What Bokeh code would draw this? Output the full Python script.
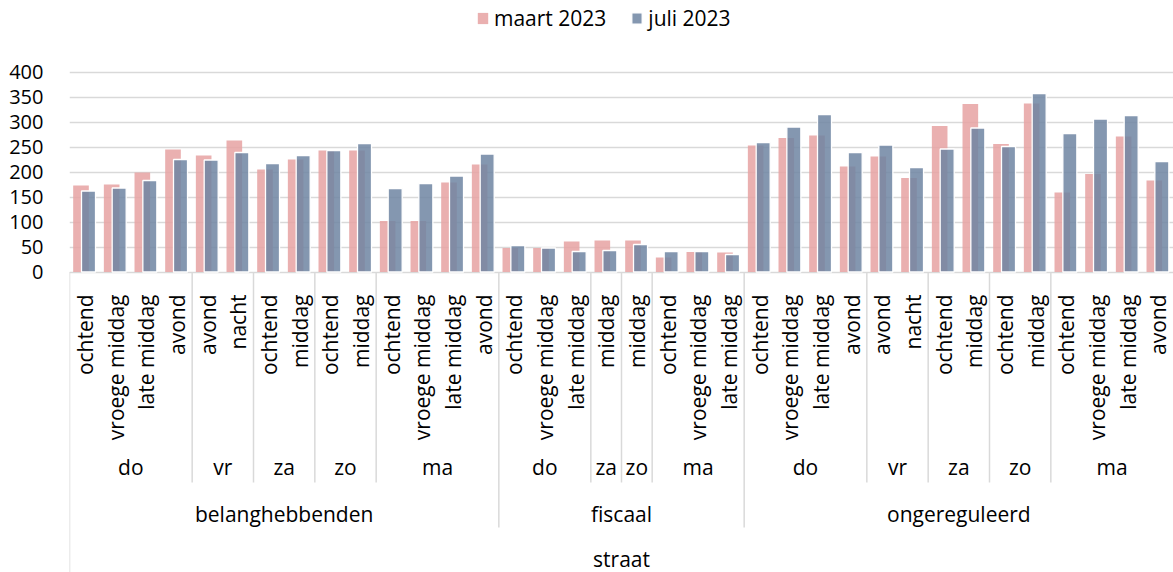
import math
from bokeh.plotting import figure
from bokeh.models import ColumnDataSource, FixedTicker, Legend, LegendItem, Range1d
from bokeh.core.properties import value
from bokeh.transform import dodge
from bokeh.embed import file_html
from bokeh.resources import INLINE

# ---------------- data ----------------
top_level = "straat"
group = (["belanghebbenden"] * 14) + (["fiscaal"] * 8) + (["ongereguleerd"] * 14)
day = (["do"] * 4 + ["vr"] * 2 + ["za"] * 2 + ["zo"] * 2 + ["ma"] * 4
       + ["do"] * 3 + ["za"] + ["zo"] + ["ma"] * 3
       + ["do"] * 4 + ["vr"] * 2 + ["za"] * 2 + ["zo"] * 2 + ["ma"] * 4)
tijd = ["ochtend", "vroege middag", "late middag", "avond",
        "avond", "nacht",
        "ochtend", "middag",
        "ochtend", "middag",
        "ochtend", "vroege middag", "late middag", "avond",
        "ochtend", "vroege middag", "late middag",
        "middag",
        "middag",
        "ochtend", "vroege middag", "late middag",
        "ochtend", "vroege middag", "late middag", "avond",
        "avond", "nacht",
        "ochtend", "middag",
        "ochtend", "middag",
        "ochtend", "vroege middag", "late middag", "avond"]
maart = [173, 175, 199, 245, 233, 263, 205, 225, 243, 243, 102, 102, 179, 215,
         48, 48, 61, 63, 63, 29, 40, 39,
         253, 268, 273, 211, 231, 188, 292, 336, 256, 337, 159, 196, 271, 183]
juli = [162, 168, 183, 225, 224, 239, 217, 233, 243, 257, 167, 177, 192, 236,
        53, 48, 41, 43, 55, 41, 41, 35,
        259, 290, 315, 239, 254, 209, 246, 288, 251, 357, 277, 306, 313, 221]
series_labels = ["maart 2023", "juli 2023"]
y_ticks = [0, 50, 100, 150, 200, 250, 300, 350, 400]

# ---------------- style ----------------
FONT = "Open Sans"
FS = "21px"
FS_TICK = "20px"
PINK = "#E6A2A2"
BLUE = "#6E85A2"
GRID = "#D9D9D9"
TXT = "#000000"

n = len(tijd)
xs = [i + 0.5 for i in range(n)]
src = ColumnDataSource(dict(x=xs, maart=maart, juli=juli, tijd=tijd))

p = figure(width=1173, height=572, output_backend="svg", toolbar_location=None,
           x_range=Range1d(0, n), y_range=Range1d(-601, 543),
           x_axis_location=None,
           min_border_left=69, min_border_right=0, min_border_top=0, min_border_bottom=0)
p.outline_line_color = None
p.xgrid.visible = False
p.ygrid.ticker = FixedTicker(ticks=y_ticks)
p.ygrid.grid_line_color = GRID
p.ygrid.grid_line_width = 1.3
p.yaxis.ticker = FixedTicker(ticks=y_ticks)
p.yaxis.axis_line_color = None
p.yaxis.major_tick_line_color = None
p.yaxis.minor_tick_line_color = None
p.yaxis.major_label_standoff = 20
p.yaxis.major_label_text_font = FONT
p.yaxis.major_label_text_font_size = FS_TICK
p.yaxis.major_label_text_color = TXT

r1 = p.vbar(x=dodge("x", -0.125, range=p.x_range), top="maart", width=0.51, bottom=0,
            source=src, fill_color=PINK, fill_alpha=0.85, line_color=None)
r2 = p.vbar(x=dodge("x", 0.12, range=p.x_range), top="juli", width=0.457, bottom=0,
            source=src, fill_color=BLUE, fill_alpha=0.85, line_color="white", line_width=1.3)

# ---------------- category labels & separators ----------------
Y_TIME = -45
Y_DAY = -389
Y_GROUP = -483
Y_TOP = -573
Y_DAY_SEP = -421
Y_GROUP_SEP = -511
Y_BOTTOM = -601

p.text(x="x", y=Y_TIME, text="tijd", source=src, angle=math.pi / 2,
       text_align="right", text_baseline="middle",
       text_font=value(FONT), text_font_size=FS, text_color=TXT)

def runs(keys):
    out = []
    start = 0
    for i in range(1, len(keys) + 1):
        if i == len(keys) or keys[i] != keys[start]:
            out.append((start, i, keys[start]))
            start = i
    return out

day_runs = runs(list(zip(group, day)))
grp_runs = runs(group)

p.text(x=[(a + b) / 2 for a, b, k in day_runs], y=[Y_DAY] * len(day_runs),
       text=[k[1] for a, b, k in day_runs], text_align="center", text_baseline="middle",
       text_font=value(FONT), text_font_size=FS, text_color=TXT)
p.text(x=[(a + b) / 2 for a, b, k in grp_runs], y=[Y_GROUP] * len(grp_runs),
       text=[k for a, b, k in grp_runs], text_align="center", text_baseline="middle",
       text_font=value(FONT), text_font_size=FS, text_color=TXT)
p.text(x=[n / 2], y=[Y_TOP], text=[top_level], text_align="center", text_baseline="middle",
       text_font=value(FONT), text_font_size=FS, text_color=TXT)

grp_bounds = set(a for a, b, k in grp_runs)
day_bounds = [a for a, b, k in day_runs if a not in grp_bounds]
p.segment(x0=day_bounds, y0=[0] * len(day_bounds), x1=day_bounds, y1=[Y_DAY_SEP] * len(day_bounds),
          line_color=GRID, line_width=1.5)
gb = sorted(b for b in grp_bounds if b != 0)
p.segment(x0=gb, y0=[0] * len(gb), x1=gb, y1=[Y_GROUP_SEP] * len(gb),
          line_color=GRID, line_width=1.5)
p.segment(x0=[0], y0=[0], x1=[0], y1=[Y_BOTTOM], line_color=GRID, line_width=1.5)

legend = Legend(items=[LegendItem(label=series_labels[0], renderers=[r1]),
                       LegendItem(label=series_labels[1], renderers=[r2])],
                orientation="horizontal", location=(407, 540),
                label_text_font=FONT, label_text_font_size=FS, label_text_color=TXT,
                glyph_width=13, glyph_height=14, label_height=24, label_standoff=5,
                spacing=24, padding=0, margin=0,
                border_line_color=None, background_fill_alpha=0)
p.add_layout(legend)

open("out.html", "w").write(file_html(p, INLINE))
